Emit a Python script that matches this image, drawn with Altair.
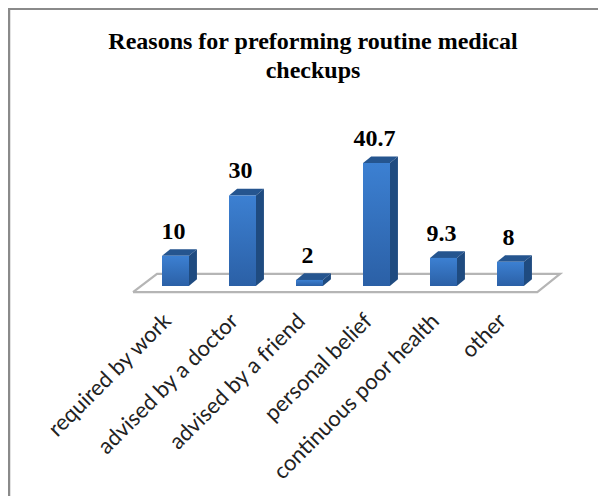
import altair as alt
import pandas as pd

TITLE = ["Reasons for preforming routine medical", "checkups"]
categories = ["required by work", "advised by a doctor", "advised by a friend",
              "personal belief", "continuous poor health", "other"]
values = [10, 30, 2, 40.7, 9.3, 8]
labels = ["10", "30", "2", "40.7", "9.3", "8"]

W, H = 590, 488
BASE = 278
PX = 3.02
HALF = 0.2
DX = 0.12
DY = 2.2

bars = pd.DataFrame({"cat": categories, "v": values, "label": labels,
                     "xc": [i + 0.5 for i in range(len(values))]})

top, side = [], []
for i, v in enumerate(values):
    l, r = i + 0.5 - HALF, i + 0.5 + HALF
    top += [dict(b=i, x=l, y=v, y2=v), dict(b=i, x=l + DX, y=v, y2=v + DY),
            dict(b=i, x=r, y=v, y2=v + DY), dict(b=i, x=r + DX, y=v + DY, y2=v + DY)]
    side += [dict(b=i, x=r, y=0, y2=v), dict(b=i, x=r + DX, y=DY, y2=v + DY)]

floor_x = [-0.134, 0.224, 5.9, 6.24]
floor_area = pd.DataFrame({"x": floor_x, "y": [-2, 4, -2, 4], "y2": [-2, -2, 4, 4]})
floor_line = pd.DataFrame({"x": [-0.134, 0.224, 6.24, 5.9, -0.134], "y": [-2, 4, 4, -2, -2], "o": range(5)})

yscale = alt.Scale(domain=[-(H - BASE) / PX, BASE / PX], range=[H, 0], nice=False, zero=False)
xq = alt.Scale(domain=[0, 6], range=[134, 536], nice=False, zero=False)
xb = alt.Scale(domain=categories, range=[134, 536], padding=0)
X = alt.X("x:Q", scale=xq, axis=None)
Y = alt.Y("y:Q", scale=yscale, axis=None)

frame = alt.Chart(pd.DataFrame({"a": [0]}))
left = frame.mark_rule(color="#8a8a8a", strokeWidth=2.5).encode(x=alt.value(1), y=alt.value(0), y2=alt.value(H))
upper = frame.mark_rule(color="#8a8a8a", strokeWidth=2).encode(y=alt.value(1), x=alt.value(0), x2=alt.value(W))

fa = alt.Chart(floor_area).mark_area(color="white").encode(X, Y, y2="y2:Q")
fl = alt.Chart(floor_line).mark_line(color="#b5b5b5", strokeWidth=2.2).encode(X, Y, order="o:Q")
ts = alt.Chart(pd.DataFrame(top)).mark_area(color="#25558f").encode(X, Y, y2="y2:Q", detail="b:N")
ss = alt.Chart(pd.DataFrame(side)).mark_area(color="#1f4b80").encode(X, Y, y2="y2:Q", detail="b:N")

grad = alt.Gradient(gradient="linear", x1=0, x2=0, y1=0, y2=1,
                    stops=[alt.GradientStop(offset=0, color="#3c80d2"),
                           alt.GradientStop(offset=1, color="#2b60a6")])
XB = alt.X("cat:N", scale=xb, sort=categories, title=None,
           axis=alt.Axis(orient="bottom", offset=309 - H, domain=False, ticks=False,
                         labelAngle=-45, labelAlign="right", labelBaseline="middle",
                         labelFont="Lato", labelFontSize=22, labelColor="#222222",
                         labelPadding=0, labelOffset=-8, labelLimit=300, labelOverlap=False))
YB = alt.Y("v:Q", scale=yscale, axis=None)
front = alt.Chart(bars).mark_bar(width=27, color=grad).encode(XB, YB, y2=alt.datum(0))
text = alt.Chart(bars).mark_text(font="Liberation Serif", fontWeight="bold", fontSize=24,
                                 baseline="bottom", dy=-12, dx=-2, color="#000000").encode(
    alt.X("xc:Q", scale=xq, axis=None), YB, text="label:N")

chart = (alt.layer(left, upper, fa, fl, ts, ss, front, text)
         .resolve_scale(x="independent")
         .properties(width=W, height=H, padding=0, autosize=alt.AutoSizeParams(type="none"),
                     title=alt.TitleParams(TITLE, font="Liberation Serif", fontWeight="bold", fontSize=24,
                                           color="#000000", anchor="middle", offset=-76, lineHeight=29, dx=10))
         .configure_view(stroke=None))
chart.save("out.html", embed_options={"renderer": "svg", "actions": False})
